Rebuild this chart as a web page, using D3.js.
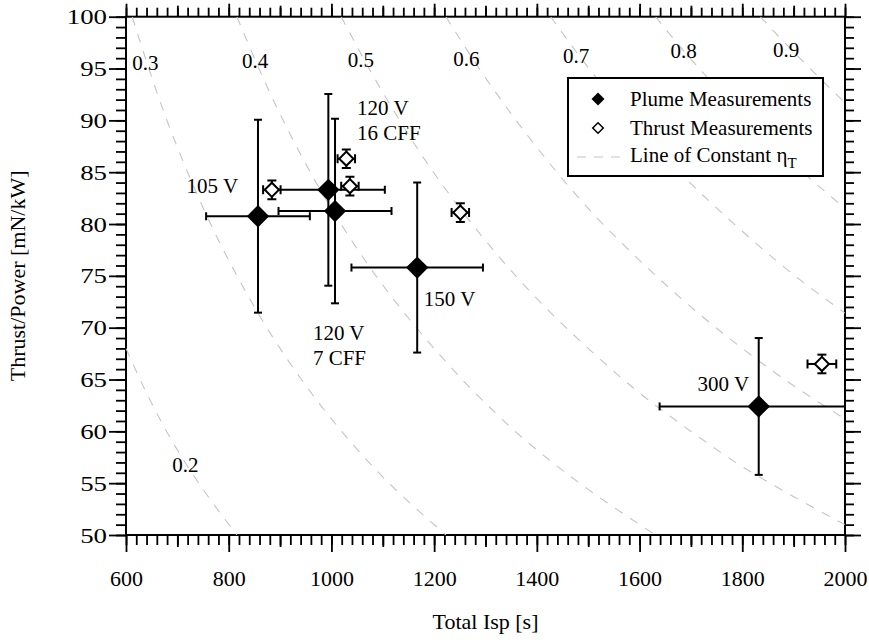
<!DOCTYPE html>
<html>
<head>
<meta charset="utf-8">
<script src="https://cdn.jsdelivr.net/npm/d3@7/dist/d3.min.js"></script>
<style>
  body { margin: 0; background: #fff; }
  svg { display: block; }
  text { font-family: "Liberation Serif", "Times New Roman", serif; font-size: 21px; fill: #000; }
  .tick line { stroke: #000; stroke-width: 1.8; }
</style>
</head>
<body>
<svg id="chart" width="869" height="640"></svg>
<script>
// Plume measurements (filled diamonds)
var plumeNames = ["105 V", "120 V 16 CFF", "120 V 7 CFF", "150 V", "300 V"];
var plumeIsp = [857, 994, 1007, 1167, 1832];
var plumeTP = [80.75, 83.3, 81.25, 75.8, 62.4];
var plumeIspErr = [101, 110, 110, 128, 193];
var plumeTPErr = [9.3, 9.25, 8.9, 8.2, 6.6];

// Thrust measurements (open diamonds)
var thrustIsp = [884, 1029, 1036, 1251, 1955];
var thrustTP = [83.3, 86.3, 83.65, 81.1, 66.5];
var thrustIspErr = [17, 17, 17, 17, 28];
var thrustTPErr = [0.9, 0.9, 0.9, 0.9, 0.9];

// Lines of constant thrust efficiency [Isp, T/P]
var effLevels = ["0.2", "0.3", "0.4", "0.5", "0.6", "0.7", "0.8", "0.9"];
var effCurves = [
    [[600, 68.0], [650, 62.7], [700, 58.2], [750, 54.4], [816, 50]],
    [[612, 100], [700, 87.4], [800, 76.5], [900, 68.0], [1000, 61.2], [1100, 55.6], [1223, 50]],
    [[816, 100], [900, 90.6], [1000, 81.5], [1100, 74.1], [1200, 68.0], [1300, 62.7], [1400, 58.2], [1500, 54.4], [1631, 50]],
    [[1019, 100], [1100, 92.7], [1200, 84.9], [1300, 78.4], [1400, 72.8], [1500, 68.0], [1600, 63.7], [1700, 60.0], [1800, 56.6], [1900, 53.7], [2000, 51.0]],
    [[1223, 100], [1300, 94.1], [1400, 87.4], [1500, 81.5], [1600, 76.5], [1700, 72.0], [1800, 68.0], [1900, 64.4], [2000, 61.2]],
    [[1427, 100], [1500, 95.1], [1600, 89.2], [1700, 83.9], [1800, 79.3], [1900, 75.1], [2000, 71.4]],
    [[1631, 100], [1700, 95.9], [1800, 90.6], [1900, 85.8], [2000, 81.5]],
    [[1835, 100], [1900, 96.6], [2000, 91.7]]
];
// where each efficiency label sits (data units, left/baseline)
var effLabelIsp = [690, 612, 826, 1032, 1237, 1451, 1660, 1860];
var effLabelTP = [56.1, 94.85, 95.05, 95.15, 95.2, 95.55, 96.0, 96.1];

// voltage annotations (data units, left/baseline of first line)
var noteLines = [["105 V"], ["120 V", "16 CFF"], ["120 V", "7 CFF"], ["150 V"], ["300 V"]];
var noteIsp = [718, 1050, 964, 1180, 1713];
var noteTP = [83.0, 90.5, 68.8, 72.05, 63.85];

// axis ticks
var xMajor = d3.range(600, 2001, 200);
var xMid = d3.range(700, 2000, 200);
var xMinor = d3.range(600, 2001, 20);
var yMajor = d3.range(50, 101, 5);
var yMinor = d3.range(50, 101, 1);

var svg = d3.select("#chart");

var plotLeft = 126, plotRight = 845, plotTop = 16.7, plotBottom = 535;

var x = d3.scaleLinear().domain([600, 2000]).range([plotLeft, plotRight]);
var y = d3.scaleLinear().domain([50, 100]).range([plotBottom, plotTop]);

svg.append("defs").append("clipPath")
    .attr("id", "plot-clip")
    .append("rect")
    .attr("x", plotLeft).attr("y", plotTop)
    .attr("width", plotRight - plotLeft).attr("height", plotBottom - plotTop);

// Axes: several passes per side for minor / mid / major ticks
function addAxis(axisFn, translate, values, size, labels) {
    var ax = axisFn.tickValues(values).tickSize(size);
    if (!labels) ax.tickFormat("");
    else ax.tickFormat(d3.format("d"));
    var g = svg.append("g")
        .attr("transform", translate)
        .call(ax);
    g.select(".domain").remove();
    g.selectAll("text")
        .style("font-size", "22px")
        .style("font-family", "Liberation Serif, Times New Roman, serif");
    return g;
}

addAxis(d3.axisBottom(x), "translate(0," + plotBottom + ")", xMinor, 10, false);
addAxis(d3.axisBottom(x), "translate(0," + plotBottom + ")", xMid, 12, false);
addAxis(d3.axisBottom(x).tickPadding(18), "translate(0," + plotBottom + ")", xMajor, 17, true);

addAxis(d3.axisTop(x), "translate(0," + plotTop + ")", xMinor, 9, false);
addAxis(d3.axisTop(x), "translate(0," + plotTop + ")", xMid, 11, false);
addAxis(d3.axisTop(x), "translate(0," + plotTop + ")", xMajor, 13, false);

addAxis(d3.axisLeft(y), "translate(" + plotLeft + ",0)", yMinor, 10, false);
var yAxisG = addAxis(d3.axisLeft(y).tickPadding(2), "translate(" + plotLeft + ",0)", yMajor, 17, true);
// the y tick numbers are drawn wider than the x ones in the original
yAxisG.selectAll("text").each(function () {
    var w = this.getComputedTextLength();
    d3.select(this)
        .attr("textLength", w * 1.22)
        .attr("lengthAdjust", "spacingAndGlyphs");
});

addAxis(d3.axisRight(y), "translate(" + plotRight + ",0)", yMinor, 9, false);
addAxis(d3.axisRight(y), "translate(" + plotRight + ",0)", yMajor, 16, false);

// frame
svg.append("rect")
    .attr("x", plotLeft).attr("y", plotTop)
    .attr("width", plotRight - plotLeft).attr("height", plotBottom - plotTop)
    .attr("fill", "none")
    .attr("stroke", "#000")
    .attr("stroke-width", 2);

var plot = svg.append("g").attr("clip-path", "url(#plot-clip)");

// constant efficiency lines
var line = d3.line()
    .x(function (d) { return x(d[0]); })
    .y(function (d) { return y(d[1]); })
    .curve(d3.curveMonotoneY);

plot.selectAll(".eff")
    .data(effCurves)
    .enter()
    .append("path")
    .attr("class", "eff")
    .attr("d", line)
    .attr("fill", "none")
    .attr("stroke", "#c4c4c4")
    .attr("stroke-width", 1.1)
    .attr("stroke-dasharray", "9,9");

svg.selectAll(".eff-label")
    .data(effLevels)
    .enter()
    .append("text")
    .attr("class", "eff-label")
    .attr("x", function (d, i) { return x(effLabelIsp[i]); })
    .attr("y", function (d, i) { return y(effLabelTP[i]); })
    .text(function (d) { return d; });

// error bars
function errorBars(g, xs, ys, xe, ye, cap) {
    xs.forEach(function (xv, i) {
        var yv = ys[i];
        var bar = g.append("g")
            .attr("stroke", "#000")
            .attr("stroke-width", 2);
        var x0 = x(xv - xe[i]), x1 = x(xv + xe[i]);
        var y0 = y(yv - ye[i]), y1 = y(yv + ye[i]);
        bar.append("line").attr("x1", x0).attr("x2", x1).attr("y1", y(yv)).attr("y2", y(yv));
        bar.append("line").attr("x1", x0).attr("x2", x0).attr("y1", y(yv) - cap).attr("y2", y(yv) + cap);
        bar.append("line").attr("x1", x1).attr("x2", x1).attr("y1", y(yv) - cap).attr("y2", y(yv) + cap);
        bar.append("line").attr("x1", x(xv)).attr("x2", x(xv)).attr("y1", y0).attr("y2", y1);
        bar.append("line").attr("x1", x(xv) - cap).attr("x2", x(xv) + cap).attr("y1", y0).attr("y2", y0);
        bar.append("line").attr("x1", x(xv) - cap).attr("x2", x(xv) + cap).attr("y1", y1).attr("y2", y1);
    });
}

errorBars(plot, plumeIsp, plumeTP, plumeIspErr, plumeTPErr, 4);
errorBars(plot, thrustIsp, thrustTP, thrustIspErr, thrustTPErr, 4.5);

var bigDiamond = d3.symbol().type(d3.symbolSquare).size(250);
var smallDiamond = d3.symbol().type(d3.symbolSquare).size(100);

plot.selectAll(".plume")
    .data(plumeIsp)
    .enter()
    .append("path")
    .attr("class", "plume")
    .attr("d", bigDiamond)
    .attr("transform", function (d, i) { return "translate(" + x(d) + "," + y(plumeTP[i]) + ") rotate(45)"; })
    .attr("fill", "#000");

plot.selectAll(".thrust")
    .data(thrustIsp)
    .enter()
    .append("path")
    .attr("class", "thrust")
    .attr("d", smallDiamond)
    .attr("transform", function (d, i) { return "translate(" + x(d) + "," + y(thrustTP[i]) + ") rotate(45)"; })
    .attr("fill", "#fff")
    .attr("stroke", "#000")
    .attr("stroke-width", 2);

// voltage annotations
noteLines.forEach(function (lines, i) {
    var t = svg.append("text")
        .attr("x", x(noteIsp[i]))
        .attr("y", y(noteTP[i]));
    lines.forEach(function (s, j) {
        t.append("tspan")
            .attr("x", x(noteIsp[i]))
            .attr("dy", j === 0 ? 0 : 25)
            .text(s);
    });
});

// legend
var legend = svg.append("g").attr("transform", "translate(568,78)");
legend.append("rect")
    .attr("width", 255).attr("height", 98)
    .attr("fill", "#fff")
    .attr("stroke", "#000")
    .attr("stroke-width", 2);

legend.append("path")
    .attr("d", d3.symbol().type(d3.symbolSquare).size(84))
    .attr("transform", "translate(30,21) rotate(45)")
    .attr("fill", "#000");
legend.append("text").attr("x", 62).attr("y", 28).text("Plume Measurements");

legend.append("path")
    .attr("d", d3.symbol().type(d3.symbolSquare).size(56))
    .attr("transform", "translate(30,50) rotate(45)")
    .attr("fill", "#fff")
    .attr("stroke", "#000")
    .attr("stroke-width", 1.5);
legend.append("text").attr("x", 62).attr("y", 57).text("Thrust Measurements");

legend.append("line")
    .attr("x1", 9).attr("x2", 52).attr("y1", 79).attr("y2", 79)
    .attr("stroke", "#c4c4c4")
    .attr("stroke-width", 1.1)
    .attr("stroke-dasharray", "9,8");
var lt = legend.append("text").attr("x", 62).attr("y", 84);
lt.append("tspan").text("Line of Constant \u03b7");
lt.append("tspan").attr("dy", 6).style("font-size", "15px").text("T");

// axis titles
svg.append("text")
    .attr("x", (plotLeft + plotRight) / 2)
    .attr("y", 629)
    .attr("text-anchor", "middle")
    .style("font-size", "22px")
    .text("Total Isp [s]");

svg.append("text")
    .attr("transform", "translate(25," + (plotTop + plotBottom) / 2 + ") rotate(-90)")
    .attr("text-anchor", "middle")
    .style("font-size", "22px")
    .text("Thrust/Power [mN/kW]");
</script>
</body>
</html>
